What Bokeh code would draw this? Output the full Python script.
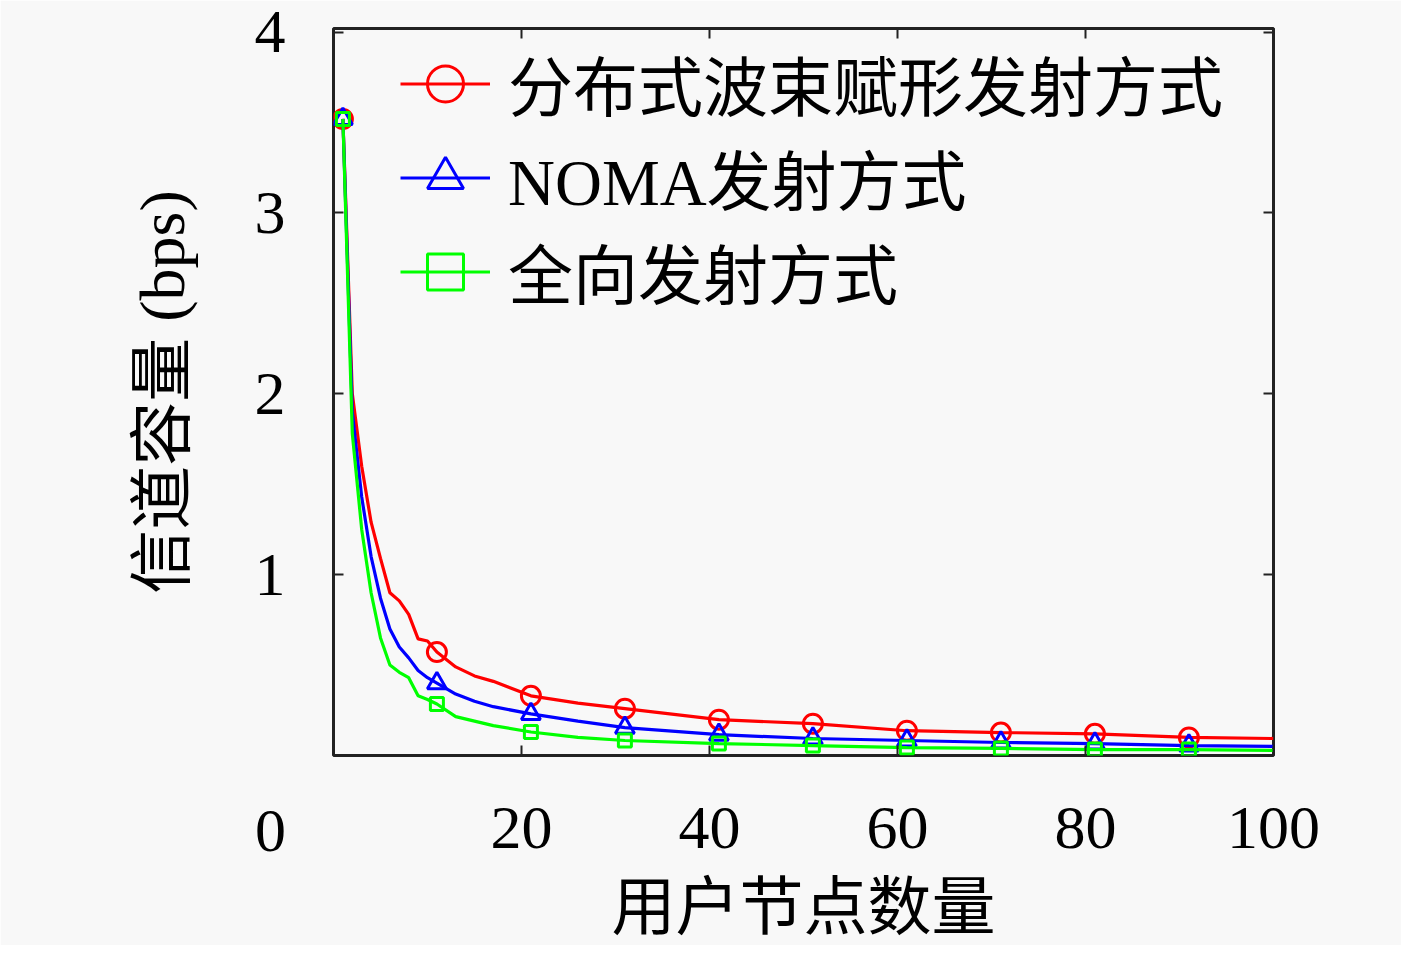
from bokeh.plotting import figure
from bokeh.models import Range1d, LinearAxis, FixedTicker, Legend, LegendItem, Label
from bokeh.embed import file_html
from bokeh.resources import INLINE

# ---- data ----
x_users = [1, 2, 3, 4, 5, 6, 7, 8, 9, 10, 11, 13, 15, 17, 21, 26, 31, 41, 51, 61, 71, 81, 91, 100]
y_beam = [3.52, 2.00, 1.60, 1.29, 1.09, 0.90, 0.855, 0.78, 0.645, 0.633, 0.572, 0.49, 0.44, 0.41,
          0.33, 0.29, 0.259, 0.198, 0.176, 0.137, 0.127, 0.12, 0.10, 0.094]
y_noma = [3.52, 1.90, 1.43, 1.10, 0.87, 0.70, 0.60, 0.54, 0.47, 0.43, 0.40, 0.34, 0.30, 0.27,
          0.23, 0.19, 0.154, 0.115, 0.094, 0.083, 0.072, 0.066, 0.055, 0.05]
y_omni = [3.52, 1.78, 1.25, 0.90, 0.65, 0.50, 0.46, 0.43, 0.33, 0.31, 0.285, 0.215, 0.19, 0.165,
          0.13, 0.10, 0.083, 0.066, 0.055, 0.044, 0.039, 0.033, 0.033, 0.028]
marker_x = [1, 11, 21, 31, 41, 51, 61, 71, 81, 91]
series_names = ["分布式波束赋形发射方式", "NOMA发射方式", "全向发射方式"]
x_ticks = [20, 40, 60, 80, 100]
y_ticks = [1, 2, 3, 4]
origin_label = "0"
x_title = "用户节点数量"
y_title = "信道容量 (bps)"

FONT = "Liberation Serif, Noto Sans CJK SC"
BG = "#f8f8f8"

p = figure(width=1401, height=945, x_range=Range1d(0, 100), y_range=Range1d(0, 4.02),
           output_backend="svg", toolbar_location=None,
           min_border_left=333, min_border_right=128, min_border_top=28, min_border_bottom=190,
           background_fill_color=BG, border_fill_color=BG,
           outline_line_color="#222222", outline_line_width=3)
p.grid.visible = False

def style_axis(ax, ticks, show_labels=True):
    ax.ticker = FixedTicker(ticks=ticks)
    ax.major_tick_in = 10
    ax.major_tick_out = 0
    ax.minor_tick_line_color = None
    ax.major_tick_line_color = "#222222"
    ax.major_tick_line_width = 2
    ax.axis_line_color = None
    ax.major_label_text_font = FONT
    ax.major_label_text_color = "black"
    if show_labels:
        ax.major_label_text_font_size = "62px"
    else:
        ax.major_label_text_font_size = "0px"
        ax.major_label_standoff = 0

style_axis(p.xaxis[0], x_ticks)
style_axis(p.yaxis[0], y_ticks)
p.xaxis[0].major_label_standoff = 52
p.yaxis[0].major_label_standoff = 48
p.yaxis[0].major_label_text_line_height = 0.85

p.xaxis[0].axis_label = x_title
p.yaxis[0].axis_label = y_title
for ax in (p.xaxis[0], p.yaxis[0]):
    ax.axis_label_text_font = FONT
    ax.axis_label_text_font_size = "64px"
    ax.axis_label_text_font_style = "normal"
    ax.axis_label_text_color = "black"
p.xaxis[0].axis_label_standoff = 21
p.yaxis[0].axis_label_standoff = 54

right_ax = LinearAxis()
style_axis(right_ax, y_ticks, show_labels=False)
p.add_layout(right_ax, "right")
top_ax = LinearAxis()
style_axis(top_ax, x_ticks, show_labels=False)
p.add_layout(top_ax, "above")

colors = ["#ff0000", "#0000ff", "#00ff00"]
markers = ["circle", "triangle", "square"]
msizes = [19, 19, 13]
ys = [y_beam, y_noma, y_omni]
items = []
for name, yv, c, m, ms in zip(series_names, ys, colors, markers, msizes):
    lr = p.line(x_users, yv, line_color=c, line_width=3.2)
    mx = [xv for xv in x_users if xv in marker_x]
    my = [yy for xv, yy in zip(x_users, yv) if xv in marker_x]
    sr = p.scatter(mx, my, marker=m, size=ms, fill_color=None, line_color=c, line_width=3)
    items.append(LegendItem(label=name, renderers=[lr, sr]))

legend = Legend(items=items, location=(67, 437), glyph_width=90, glyph_height=93,
                label_height=93, spacing=0, padding=0, margin=0, label_standoff=18,
                label_text_font=FONT, label_text_font_size="65px", label_text_color="black",
                border_line_color=None, background_fill_alpha=0)
p.add_layout(legend)

zero = Label(x=270, y=830, x_units="canvas", y_units="canvas", text=origin_label,
             text_font=FONT, text_font_size="62px",
             text_align="center", text_baseline="middle", text_color="black")
p.add_layout(zero, "left")

open("out.html", "w").write(file_html(p, INLINE))
